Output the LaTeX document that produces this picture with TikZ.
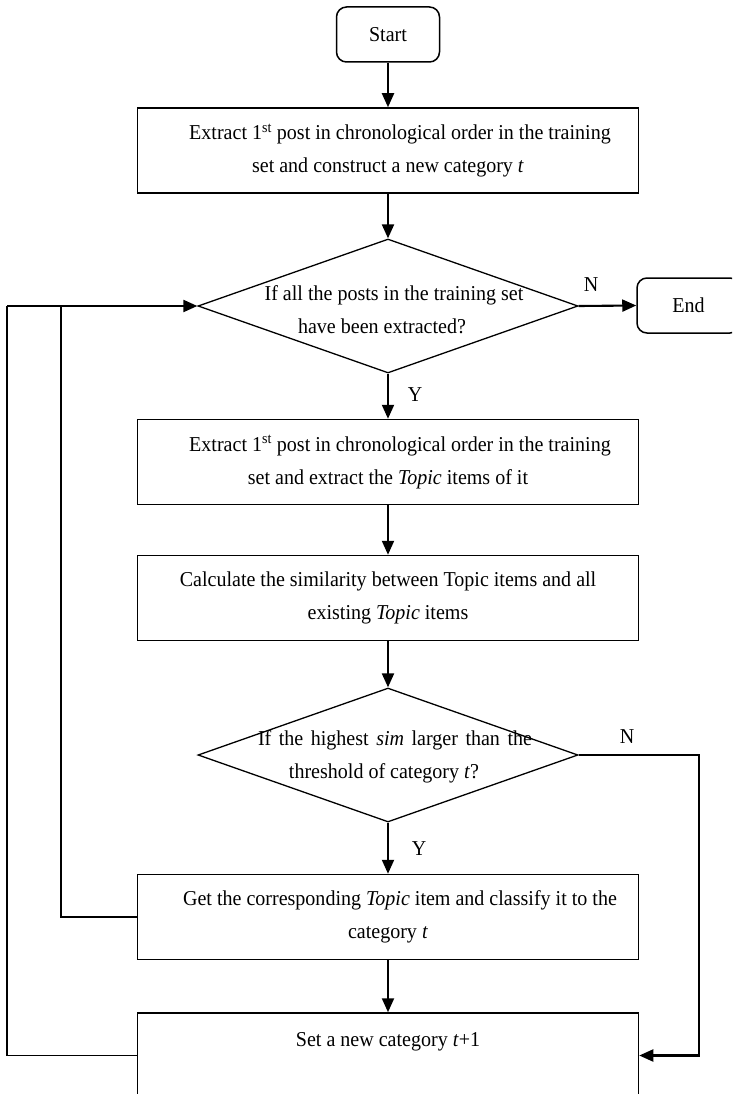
\documentclass[tikz,border=0pt]{standalone}
\usepackage{fontspec}
\setmainfont{Liberation Serif}[FakeStretch=0.945]
\usetikzlibrary{shapes.geometric,arrows.meta}
\begin{document}
\begin{tikzpicture}[x=1pt,y=-1pt,
  txt/.style={font=\fontsize{21.2}{33}\selectfont},
  procbox/.style={draw, line width=1.5pt, minimum width=501pt, minimum height=85pt, inner sep=0pt, align=center, txt},
  termbox/.style={draw, rounded corners=10pt, line width=1.5pt, minimum width=103pt, minimum height=55pt, inner sep=0pt, txt},
  decision/.style={draw, diamond, line width=1.3pt, minimum width=380pt, minimum height=134pt, inner sep=0pt},
  dtext/.style={txt, align=center, inner sep=0pt},
  flow/.style={line width=2.1pt, -{Triangle[length=14pt,width=12pt]}},
  link/.style={line width=1.6pt},
  lbl/.style={txt, inner sep=0pt}]
\useasboundingbox (0,0) rectangle (732,1094);
\clip (0,0) rectangle (732,1094);
\node[termbox] (start) at (388,34.5) {Start};
\node[procbox] (b1) at (388,150.5) {\hspace*{24pt}Extract 1\textsuperscript{st} post in chronological order in the training\\set and construct a new category \textit{t}};
\node[decision] (d1) at (388,306) {};
\node[dtext, yshift=-4pt] (d1t) at (d1) {\hspace*{12pt}If all the posts in the training set\\have been extracted?\hspace*{12pt}};
\node[termbox] (end) at (688.5,305.5) {End};
\node[procbox] (b2) at (388,462) {\hspace*{24pt}Extract 1\textsuperscript{st} post in chronological order in the training\\set and extract the \textit{Topic} items of it};
\node[procbox] (b3) at (388,598) {Calculate the similarity between Topic items and all\\existing \textit{Topic} items};
\node[decision] (d2) at (388,755) {};
\node[dtext, yshift=-2pt] (d2t) at (d2) {\hspace*{14pt}\makebox[274pt][s]{If the highest \textit{sim} larger than the}\\threshold of category \textit{t}?\hspace*{8pt}};
\node[procbox] (b4) at (388,917) {\hspace*{24pt}Get the corresponding \textit{Topic} item and classify it to the\\category \textit{t}};
\node[procbox] (b5) at (388,1055.5) {Set a new category \textit{t}+1\\\mbox{}};
\node[lbl] (n1) at (591,285) {N};
\node[lbl] (y1) at (415,395) {Y};
\node[lbl] (n2) at (627,737) {N};
\node[lbl] (y2) at (419,849) {Y};
\coordinate (j1) at (61,306);
\coordinate (j0) at (7,306);
\coordinate (r1) at (699,755);
\draw[flow] (start) -- (b1);
\draw[flow] (b1) -- (d1);
\draw[flow] (d1.east) -- (end.west);
\draw[flow] (d1.south) -- (b2.north);
\draw[flow] (b2) -- (b3);
\draw[flow] (b3) -- (d2.north);
\draw[flow] (d2.south) -- (b4.north);
\draw[flow] (b4) -- (b5);
\draw[flow] (d2.east) -- (r1) |- (b5.east);
\draw[link] (b4.west) -| (j1);
\draw[link] (b5.west) -| (j0);
\draw[flow] (j0) -- (d1.west);
\end{tikzpicture}
\end{document}
